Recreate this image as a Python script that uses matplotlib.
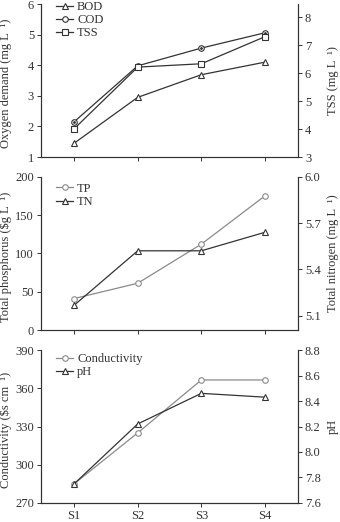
import matplotlib
matplotlib.use("Agg")
import matplotlib.pyplot as plt

sites = ["S1", "S2", "S3", "S4"]
bod = [1.45, 2.95, 3.69, 4.10]
cod = [2.15, 3.98, 4.56, 5.06]
tss = [4.01, 6.22, 6.34, 7.31]
tp = [41, 61, 112, 175]
tn = [5.167, 5.52, 5.52, 5.64]
cond = [285, 325, 366.5, 366.5]
ph = [7.75, 8.22, 8.46, 8.43]

plt.rcParams['font.family'] = ['Liberation Serif', 'DejaVu Serif']
FS = 9
TXT = '#333333'
DARK = '#333333'
LIGHT = '#8a8a8a'

fig = plt.figure(figsize=(3.4, 5.22), dpi=100)
L, W = 0.1206, 0.756
boxes = [(0.6992, 0.9923), (0.3678, 0.6615), (0.0364, 0.3295)]
x = list(range(len(sites)))

def style(ax):
    ax.spines['top'].set_visible(False)
    for s in ax.spines.values():
        s.set_color(DARK)
        s.set_linewidth(0.8)
    ax.tick_params(colors=TXT, direction='out', length=3, width=0.7, labelsize=FS, pad=2)
    ax.set_xlim(-0.52, 3.52)
    ax.set_xticks(x)

axes = []
for b, t in boxes:
    ax = fig.add_axes([L, b, W, t - b])
    ax2 = ax.twinx()
    style(ax); style(ax2)
    axes.append((ax, ax2))

mk = dict(markersize=4, markerfacecolor='white', markeredgewidth=0.8, linewidth=0.9)
leg = dict(loc='upper left', frameon=False, handlelength=1.3, handletextpad=0.35,
           labelspacing=0.1, fontsize=FS, labelcolor=TXT, borderaxespad=0, borderpad=0)

def labels(ax, ax2, left, right):
    ax.set_ylabel(left, color=TXT, fontsize=FS)
    ax.yaxis.set_label_coords(-0.114, 0.48)
    ax2.set_ylabel(right, color=TXT, fontsize=FS)
    ax2.yaxis.set_label_coords(1.113, 0.5)

# Panel 1
ax, ax2 = axes[0]
h1, = ax.plot(x, bod, marker='^', color=DARK, **mk)
h2, = ax.plot(x, cod, marker='o', color=DARK, **mk)
ax.plot(x, cod, marker='.', linestyle='none', color=DARK, markersize=2)
h3, = ax2.plot(x, tss, marker='s', color=DARK, **mk)
ax.set_ylim(1, 6); ax.set_yticks([1, 2, 3, 4, 5, 6])
ax2.set_ylim(3, 8.48); ax2.set_yticks([3, 4, 5, 6, 7, 8])
ax.set_xticklabels([])
labels(ax, ax2, 'Oxygen demand (mg L  ¹)', 'TSS (mg L  ¹)')
ax.legend([h1, h2, h3], ['BOD', 'COD', 'TSS'], bbox_to_anchor=(0.06, 1.02), **leg)

# Panel 2
ax, ax2 = axes[1]
g1, = ax.plot(x, tp, marker='o', color=LIGHT, **mk)
g2, = ax2.plot(x, tn, marker='^', color=DARK, **mk)
ax.set_ylim(0, 200); ax.set_yticks([0, 50, 100, 150, 200])
ax2.set_ylim(5.007, 6.0); ax2.set_yticks([5.1, 5.4, 5.7, 6.0])
ax2.set_yticklabels(['5.1', '5.4', '5.7', '6.0'])
ax.set_xticklabels([])
labels(ax, ax2, 'Total phosphorus (\\$g L  ¹)', 'Total nitrogen (mg L  ¹)')
ax.legend([g1, g2], ['TP', 'TN'], bbox_to_anchor=(0.06, 0.96), **leg)

# Panel 3
ax, ax2 = axes[2]
k1, = ax.plot(x, cond, marker='o', color=LIGHT, **mk)
k2, = ax2.plot(x, ph, marker='^', color=DARK, **mk)
ax.set_ylim(270, 390); ax.set_yticks([270, 300, 330, 360, 390])
ax2.set_ylim(7.6, 8.8); ax2.set_yticks([7.6, 7.8, 8.0, 8.2, 8.4, 8.6, 8.8])
ax2.set_yticklabels(['7.6', '7.8', '8.0', '8.2', '8.4', '8.6', '8.8'])
ax.set_xticklabels(sites)
labels(ax, ax2, 'Conductivity (\\$s cm  ¹)', 'pH')
ax.legend([k1, k2], ['Conductivity', 'pH'], bbox_to_anchor=(0.06, 0.98), **leg)

fig.savefig('out.png', dpi=100)
